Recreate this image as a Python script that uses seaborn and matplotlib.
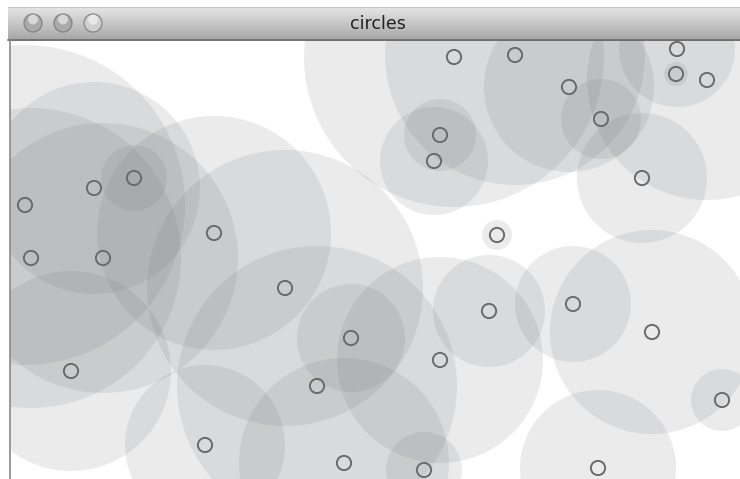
import matplotlib
matplotlib.use('Agg')
import seaborn as sns
import matplotlib.pyplot as plt
from matplotlib.patches import Circle, Rectangle
import numpy as np
import pandas as pd

# centres of the circles (screen pixels) and radii of the shaded disks
cx = [454, 515, 677, 676, 707, 569, 601, 642, 440, 434,
      25, 94, 134, 214, 31, 103, 497, 285, 489, 573,
      652, 351, 440, 71, 317, 722, 205, 344, 424, 598]
cy = [57, 55, 49, 74, 80, 87, 119, 178, 135, 161,
      205, 188, 178, 233, 258, 258, 235, 288, 311, 304,
      332, 338, 360, 371, 386, 400, 445, 463, 470, 468]
radius = [150, 130, 58, 12, 120, 85, 40, 65, 36, 54,
          160, 106, 33, 117, 150, 135, 15, 138, 56, 58,
          102, 54, 103, 100, 140, 31, 80, 105, 38, 78]
window_title = 'circles'

df = pd.DataFrame({'x': cx, 'y': cy, 'r': radius})

sns.set_style('white')
fig = plt.figure(figsize=(7.4, 4.79), dpi=100)
ax = fig.add_axes([0, 0, 1, 1])
ax.set_xlim(0, 740)
ax.set_ylim(479, 0)
ax.axis('off')

# canvas area
canvas = Rectangle((10, 40), 730, 439, facecolor='white', edgecolor='none', zorder=0)
ax.add_patch(canvas)

for _, row in df.iterrows():
    c = Circle((row.x, row.y), row.r, facecolor='#72757a', alpha=0.14,
               edgecolor='none', zorder=1)
    ax.add_patch(c)
    c.set_clip_path(canvas)

sns.scatterplot(data=df, x='x', y='y', ax=ax, s=105, marker='o',
                facecolor='none', edgecolor='#6a6a6a', linewidth=1.4, zorder=3)
ax.set_xlim(0, 740)
ax.set_ylim(479, 0)
ax.axis('off')

# window chrome: title bar gradient
grad = np.linspace(0.90, 0.66, 64).reshape(-1, 1)
ax.imshow(grad, cmap='gray', vmin=0, vmax=1, extent=[8, 740, 39, 7],
          aspect='auto', zorder=5)
ax.plot([8, 740], [39.5, 39.5], color='#5a5a5a', lw=1.2, zorder=6)
ax.plot([10, 10], [40, 479], color='#8a8a8a', lw=1.2, zorder=6)
ax.plot([8, 740], [7, 7], color='#c8c8c8', lw=0.8, zorder=6)
ax.text(378, 23.5, window_title, ha='center', va='center', fontsize=12.5,
        color='#222222', family='DejaVu Sans', zorder=7)

for bx, fc in [(33, '#a9a9a9'), (63, '#a9a9a9'), (93, '#cfcfcf')]:
    ax.add_patch(Circle((bx, 23), 9, facecolor=fc, edgecolor='#7d7d7d',
                        lw=0.8, zorder=7))
    ax.add_patch(Circle((bx, 19.5), 5, facecolor='white', alpha=0.55,
                        edgecolor='none', zorder=8))

ax.set_xlim(0, 740)
ax.set_ylim(479, 0)
fig.savefig('out.png', dpi=100)
